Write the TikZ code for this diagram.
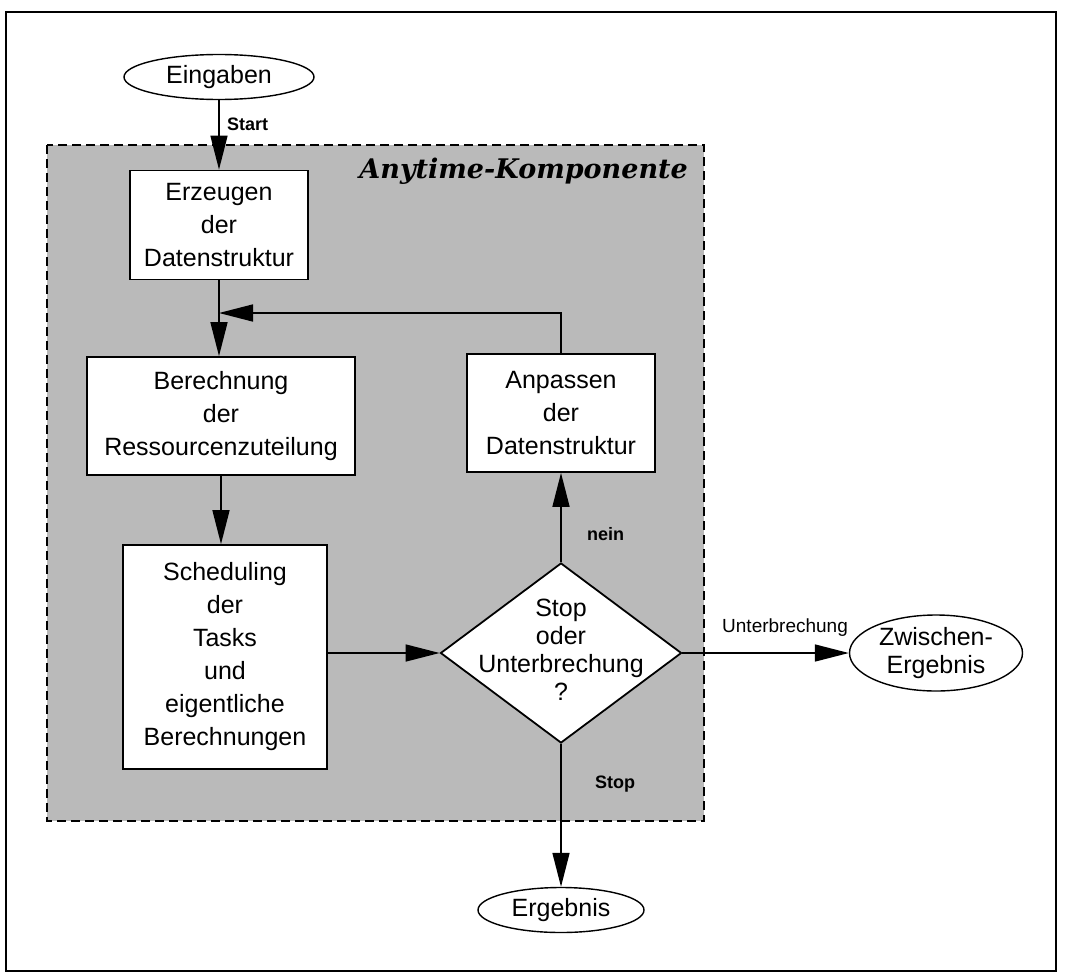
\documentclass[tikz,border=0pt]{standalone}
\usepackage{fontspec}
\setsansfont{Liberation Sans}
\newfontfamily\titlefont{DejaVu Serif}
\usetikzlibrary{arrows.meta,shapes.geometric}

\begin{document}
\begin{tikzpicture}[x=1pt,y=-1pt,
  txt/.style={font=\sffamily\fontsize{25}{33}\selectfont, align=center},
  box/.style={txt, draw, line width=1.8pt, fill=white, inner sep=0pt},
  term/.style={draw, ellipse, line width=1.4pt, fill=white, align=center,
               font=\sffamily\fontsize{25}{28}\selectfont, inner sep=0pt},
  decision/.style={draw, diamond, line width=1.8pt, fill=white, inner sep=0pt},
  arr/.style={line width=1.6pt, -{Triangle[length=34pt,width=17pt]}},
  lbl/.style={font=\sffamily\bfseries\fontsize{18}{20}\selectfont, anchor=base west, inner sep=0pt},
  region/.style={line width=1.6pt, dash pattern=on 9pt off 5pt, fill=black!27},
]
\useasboundingbox (0,0) rectangle (1067,974);

% outer frame
\draw[line width=1.2pt] (6,12) rectangle (1056,971);

% anytime component
\draw[region] (47,145) rectangle (704,821);
\node[anchor=base east, inner sep=0pt,
      font=\titlefont\bfseries\itshape\fontsize{27}{30}\selectfont] (title) at (688,178) {Anytime-Komponente};

% nodes
\node[term, minimum width=190pt, minimum height=45pt] (ein) at (219,77) {Eingaben};
\node[box, minimum width=178pt, minimum height=109pt] (erz) at (219,225) {Erzeugen\\der\\Datenstruktur};
\node[box, minimum width=268pt, minimum height=118pt] (ber) at (221,416) {Berechnung\\der\\Ressourcenzuteilung};
\node[box, minimum width=188pt, minimum height=118pt] (anp) at (561,413) {Anpassen\\der\\Datenstruktur};
\node[box, minimum width=204pt, minimum height=224pt] (sch) at (225,657) {Scheduling\\der\\Tasks\\und\\eigentliche\\Berechnungen};
\node[decision, minimum width=241pt, minimum height=180pt] (dia) at (561,653) {};
\node[txt, font=\sffamily\fontsize{25}{28}\selectfont, inner sep=0pt] (diatext) at (561,650) {Stop\\oder\\Unterbrechung\\?};
\node[term, minimum width=173pt, minimum height=76pt] (zw) at (936,653) {Zwischen-\\Ergebnis};
\node[term, minimum width=166pt, minimum height=45pt] (erg) at (561,910) {Ergebnis};

% connectors
\coordinate (merge) at (219,313);
\draw[arr] (ein) -- (erz);
\draw[arr] (erz.south) -- (erz.south |- ber.north);
\draw[arr] (anp.north) |- (merge);
\draw[arr] (ber.south) -- (ber.south |- sch.north);
\draw[arr] (sch.east |- dia.west) -- (dia.west);
\draw[arr] (dia.north) -- (anp.south);
\draw[arr] (dia.east) -- (zw.west);
\draw[arr] (dia.south) -- (erg.north);

% connector labels
\node[lbl] (lstart) at (227,130) {Start};
\node[lbl] (lnein) at (587,540) {nein};
\node[lbl] (lstop) at (595,788) {Stop};
\node[lbl, font=\sffamily\fontsize{19}{21}\selectfont] (lunt) at (722,632) {Unterbrechung};
\end{tikzpicture}
\end{document}
